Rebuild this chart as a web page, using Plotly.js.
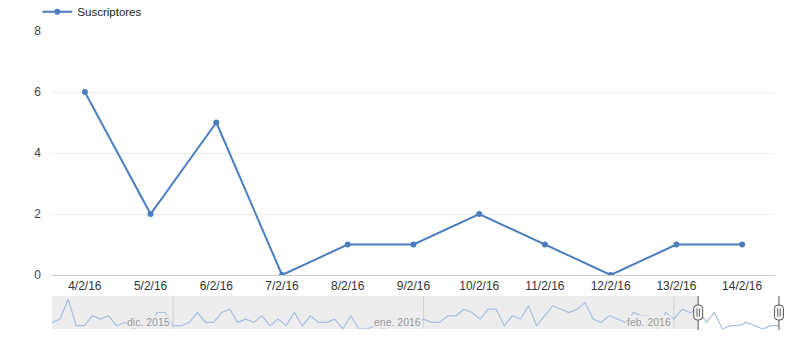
<!DOCTYPE html>
<html>
<head>
<meta charset="utf-8">
<script src="https://cdn.plot.ly/plotly-3.0.1.min.js"></script>
<style>
  html, body { margin: 0; padding: 0; background: #fff; }
  #chart { width: 800px; height: 342px; }
</style>
</head>
<body>
<div id="chart"></div>
<script>
// ---- Data: daily "Suscriptores" counts ----
const seriesName = 'Suscriptores';
// 16-30 Nov 2015
const nov2015 = [2, 3, 9, 1, 1, 4, 3, 4, 1, 2, 0, 1, 1, 5, 5];
// 1-31 Dec 2015
const dec2015 = [1, 1, 2, 5, 2, 2, 5, 6, 2, 3, 2, 4, 1, 3, 1, 5, 1, 4, 2, 2, 3, 0, 4, 0, 0, 1, 0, 1, 4, 2, 2];
// 1-31 Jan 2016
const jan2016 = [3, 2, 2, 4, 4, 6, 5, 3, 6, 6, 1, 4, 3, 7, 1, 4, 7, 6, 5, 6, 8, 3, 2, 4, 3, 2, 5, 4, 4, 0, 5];
// 1-14 Feb 2016
const feb2016 = [3, 6, 5, 6, 2, 5, 0, 1, 1, 2, 1, 0, 1, 1];

const monthLabels = ['dic. 2015', 'ene. 2016', 'feb. 2016'];
const monthStarts = ['2015-12-01', '2016-01-01', '2016-02-01'];
const rangeStart = '2015-11-16';
const rangeEnd = '2016-02-14 18:00';
const selStart = '2016-02-04';
const selEnd = '2016-02-14';

// ---- Build date/value arrays ----
function pad(n) { return (n < 10 ? '0' : '') + n; }
const dates = [], values = [];
function addMonth(prefix, firstDay, arr) {
  arr.forEach((v, i) => { dates.push(prefix + '-' + pad(firstDay + i)); values.push(v); });
}
addMonth('2015-11', 16, nov2015);
addMonth('2015-12', 1, dec2015);
addMonth('2016-01', 1, jan2016);
addMonth('2016-02', 1, feb2016);

const s0 = dates.indexOf(selStart), s1 = dates.indexOf(selEnd);
const mainX = dates.slice(s0, s1 + 1);
const mainY = values.slice(s0, s1 + 1);

const blue = '#4a7ebf';
const spark = '#a9c0e0';
const font = 'Arial, "Liberation Sans", Helvetica, sans-serif';

const H = 342, W = 800, L = 52, R = 15;
const plotW = W - L - R;

const traces = [
  {
    x: mainX, y: mainY, name: seriesName, type: 'scatter', mode: 'lines+markers',
    line: { color: blue, width: 2 }, marker: { color: blue, size: 6 },
    xaxis: 'x', yaxis: 'y', hoverinfo: 'x+y'
  },
  {
    x: dates, y: values, name: seriesName, type: 'scatter', mode: 'lines',
    line: { color: spark, width: 1.2 }, showlegend: false,
    xaxis: 'x2', yaxis: 'y2', hoverinfo: 'skip'
  }
];

const shapes = [
  // unselected part of range filter (grey)
  { type: 'rect', xref: 'x2', yref: 'y2 domain', x0: rangeStart, x1: selStart, y0: 0, y1: 1,
    fillcolor: '#ededed', line: { width: 0 }, layer: 'below' }
];
monthStarts.forEach(d => shapes.push({
  type: 'line', xref: 'x2', yref: 'y2 domain', x0: d, x1: d, y0: 0, y1: 1,
  line: { color: '#d2d2d2', width: 1 }, layer: 'below'
}));
[selStart, selEnd].forEach(d => {
  shapes.push({ type: 'line', xref: 'x2', yref: 'y2 domain', x0: d, x1: d, y0: -0.03, y1: 1,
    line: { color: '#555', width: 1 } });
  shapes.push({ type: 'path', xref: 'x2', yref: 'y2 domain', xsizemode: 'pixel', ysizemode: 'pixel',
    xanchor: d, yanchor: 0.5,
    path: 'M-4.5,-4 L-4.5,4 Q-4.5,7.5 -1,7.5 L1,7.5 Q4.5,7.5 4.5,4 L4.5,-4 Q4.5,-7.5 1,-7.5 L-1,-7.5 Q-4.5,-7.5 -4.5,-4 Z',
    fillcolor: '#f4f4f4', line: { color: '#555', width: 1 } });
  shapes.push({ type: 'path', xref: 'x2', yref: 'y2 domain', xsizemode: 'pixel', ysizemode: 'pixel',
    xanchor: d, yanchor: 0.5,
    path: 'M-1.2,-4 L-1.2,4 M1.2,-4 L1.2,4',
    line: { color: '#666', width: 1 } });
});

const annotations = monthStarts.map((d, i) => ({
  x: d, xref: 'x2', y: 0.22, yref: 'y2 domain', xanchor: 'right', yanchor: 'middle',
  xshift: -2, showarrow: false, text: monthLabels[i], bgcolor: '#ededed', borderpad: 0,
  font: { family: font, size: 10.5, color: '#9a9a9a' }
}));

const layout = {
  width: W, height: H,
  margin: { l: L, r: R, t: 0, b: 0, pad: 0, autoexpand: false },
  paper_bgcolor: '#fff', plot_bgcolor: 'rgba(0,0,0,0)',
  font: { family: font, size: 12, color: '#444' },
  showlegend: true,
  legend: { x: -0.02, y: 1.008, xanchor: 'left', yanchor: 'top', orientation: 'h',
            font: { family: font, size: 11.5, color: '#222' }, bgcolor: 'rgba(0,0,0,0)' },
  xaxis: {
    domain: [0, 723 / plotW], anchor: 'y', type: 'date',
    range: ['2016-02-03 12:00', '2016-02-14 12:00'],
    tick0: selStart, dtick: 86400000, tickformat: '%-d/%-m/%y',
    showgrid: false, zeroline: false, showline: false, ticks: '',
    tickfont: { family: font, size: 12, color: '#333' }, ticklabelstandoff: 2
  },
  yaxis: {
    domain: [67 / H, 311 / H], anchor: 'x', range: [0, 8], dtick: 2,
    gridcolor: '#ececec', gridwidth: 1, zeroline: true, zerolinecolor: '#cccccc', zerolinewidth: 1,
    showline: false, ticks: '', tickfont: { family: font, size: 12, color: '#444' },
    ticklabelstandoff: 10
  },
  xaxis2: {
    domain: [0, 1], anchor: 'y2', type: 'date', range: [rangeStart, rangeEnd],
    visible: false
  },
  yaxis2: {
    domain: [13 / H, 46 / H], anchor: 'x2', range: [0, 10], visible: false
  },
  shapes: shapes,
  annotations: annotations
};

Plotly.newPlot('chart', traces, layout, { displayModeBar: false, staticPlot: false });
</script>
</body>
</html>
